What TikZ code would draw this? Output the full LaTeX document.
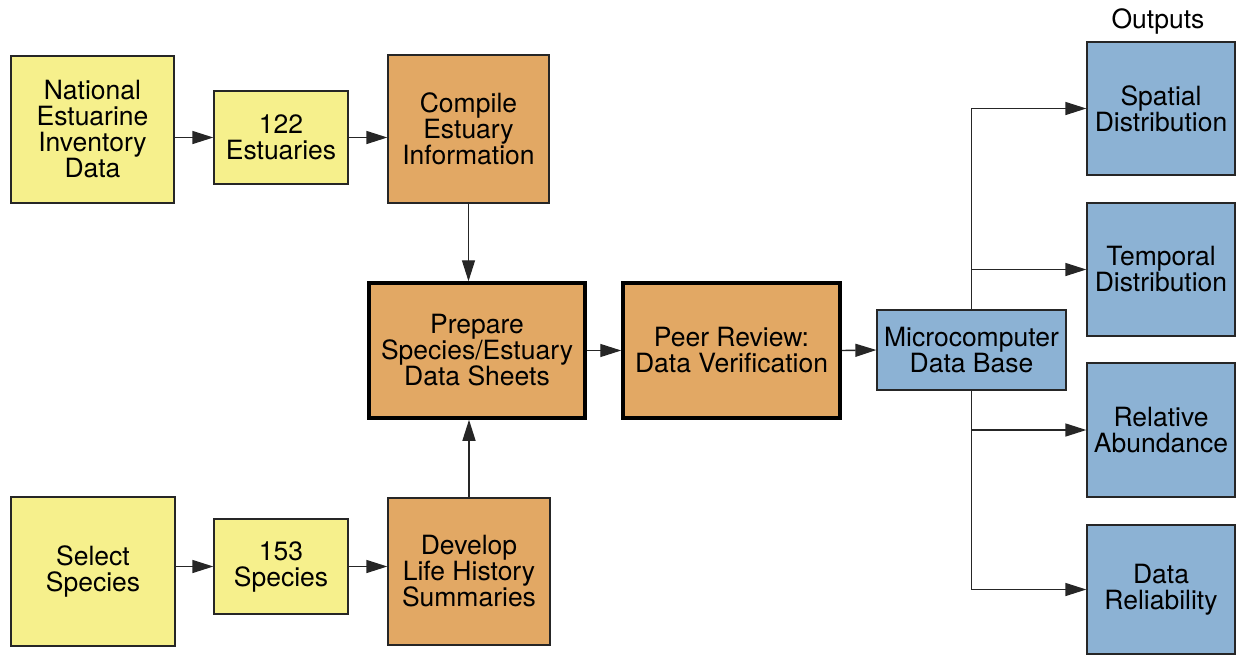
\documentclass[tikz,border=0pt]{standalone}
\usepackage{fontspec}
\setmainfont{TeX Gyre Heros}
\usetikzlibrary{arrows.meta}

\definecolor{pale}{RGB}{246,240,140}
\definecolor{tan}{RGB}{226,168,100}
\definecolor{steel}{RGB}{140,178,212}

\tikzset{
  box/.style={draw=black!85, line width=1.3pt, rectangle, align=center,
    inner sep=0pt, font=\fontsize{26.5}{26}\selectfont},
  yellowbox/.style={box, fill=pale},
  orangebox/.style={box, fill=tan},
  bluebox/.style={box, fill=steel},
  heavy/.style={line width=3.5pt, draw=black},
  arr/.style={line width=1.4pt, draw=black!85, -{Triangle[length=21pt,width=13pt]}}
}

\begin{document}
\begin{tikzpicture}[x=1pt,y=-1pt]
\useasboundingbox (0,0) rectangle (1237,656);

% inputs
\node[yellowbox, minimum width=163pt, minimum height=147pt] (T1) at (92.5,129.5) {National\\Estuarine\\Inventory\\Data};
\node[yellowbox, minimum width=134pt, minimum height=93pt] (T2) at (281,137.5) {122\\Estuaries};
\node[orangebox, minimum width=161pt, minimum height=148pt] (T3) at (468.5,129) {Compile\\Estuary\\Information};

\node[yellowbox, minimum width=164pt, minimum height=149pt] (T4) at (93,571.5) {Select\\Species};
\node[yellowbox, minimum width=134pt, minimum height=95pt] (T5) at (281,566.5) {153\\Species};
\node[orangebox, minimum width=162pt, minimum height=147pt] (T6) at (469,571.5) {Develop\\Life History\\Summaries};

\node[orangebox, heavy, minimum width=216pt, minimum height=135pt] (T7) at (477,350.5) {Prepare\\Species/Estuary\\Data Sheets};
\node[orangebox, heavy, minimum width=217pt, minimum height=135pt] (T8) at (731.5,350.5) {Peer Review:\\Data Verification};
\node[bluebox, minimum width=189pt, minimum height=80pt] (T9) at (971.5,350) {Microcomputer\\Data Base};

% outputs
\node[font=\fontsize{26.5}{26}\selectfont] (out) at (1158,21) {Outputs};
\node[bluebox, minimum width=148pt, minimum height=133pt] (T10) at (1161,108.5) {Spatial\\Distribution};
\node[bluebox, minimum width=148pt, minimum height=133pt] (T11) at (1161,269.5) {Temporal\\Distribution};
\node[bluebox, minimum width=148pt, minimum height=134pt] (T12) at (1161,430) {Relative\\Abundance};
\node[bluebox, minimum width=148pt, minimum height=129pt] (T13) at (1161,589.5) {Data\\Reliability};

\draw[arr] (T1.east |- T2.west) -- (T2.west);
\draw[arr] (T2.east) -- (T3.west |- T2.east);
\draw[arr] (T4.east |- T5.west) -- (T5.west);
\draw[arr] (T5.east) -- (T6.west |- T5.east);

\draw[arr] (T3.south) -- (T7.north -| T3.south);
\draw[arr] (T6.north) -- (T7.south -| T6.north);
\draw[arr] (T7.east) -- (T8.west);
\draw[arr] (T8.east) -- (T9.west);

\draw[arr] (T9.north) |- (T10.west);
\draw[arr] (T9.north) |- (T11.west);
\draw[arr] (T9.south) |- (T12.west);
\draw[arr] (T9.south) |- (T13.west);

\end{tikzpicture}
\end{document}
